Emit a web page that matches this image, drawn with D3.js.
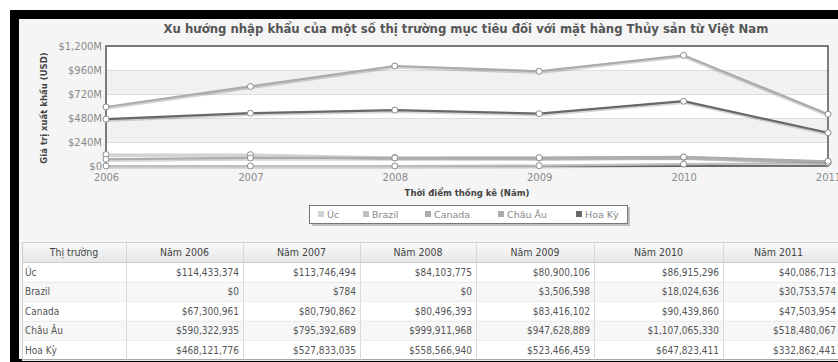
<!DOCTYPE html>
<html><head><meta charset="utf-8">
<script src="https://cdn.jsdelivr.net/npm/d3@7"></script>
<style>
body{margin:0;background:#fff}
svg{display:block}
</style>
</head><body>
<svg id="c" width="838" height="362"></svg>
<script>
// Seafood import values (USD) per market, 2006–2011
const years = [2006, 2007, 2008, 2009, 2010, 2011];
const markets = ["Úc", "Brazil", "Canada", "Châu Âu", "Hoa Kỳ"];
const uc     = [114433374, 113746494, 84103775, 80900106, 86915296, 40086713];
const brazil = [0, 784, 0, 3506598, 18024636, 30753574];
const canada = [67300961, 80790862, 80496393, 83416102, 90439860, 47503954];
const chauAu = [590322935, 795392689, 999911968, 947628889, 1107065330, 518480067];
const hoaKy  = [468121776, 527833035, 558566940, 523466459, 647823411, 332862441];
const yTicks = [0, 240e6, 480e6, 720e6, 960e6, 1200e6];
const colors = ["#d2d2d2", "#bebebe", "#acacac", "#ababab", "#686868"];

const seriesValues = [uc, brazil, canada, chauAu, hoaKy];
const series = markets.map((m, i) => ({name: m, values: seriesValues[i], color: colors[i]}));

const svg = d3.select("#c");
const W = 838, H = 362;

// outer frame
svg.append("rect").attr("width", W).attr("height", H).attr("fill", "#fff");
svg.append("rect").attr("x", 10).attr("y", 10).attr("width", W - 10).attr("height", H - 10).attr("fill", "#000");
svg.append("rect").attr("x", 19).attr("y", 19).attr("width", W - 19).attr("height", 340).attr("fill", "#f5f5f5");

const plot = {left: 106, right: 828, top: 46, bottom: 166};
const x = d3.scalePoint().domain(years).range([plot.left, plot.right]);
const y = d3.scaleLinear().domain([0, 1200e6]).range([plot.bottom, plot.top]);

const font = "'DejaVu Sans', Verdana, sans-serif";

// title
svg.append("text")
  .attr("x", 466).attr("y", 33)
  .attr("text-anchor", "middle")
  .attr("font-family", font).attr("font-weight", "bold").attr("font-size", 11.7)
  .attr("fill", "#555")
  .text("Xu hướng nhập khẩu của một số thị trường mục tiêu đối với mặt hàng Thủy sản từ Việt Nam");

// alternating bands
const bands = svg.append("g");
for (let i = 0; i < yTicks.length - 1; i++) {
  bands.append("rect")
    .attr("x", plot.left).attr("width", plot.right - plot.left)
    .attr("y", y(yTicks[i + 1])).attr("height", y(yTicks[i]) - y(yTicks[i + 1]))
    .attr("fill", i % 2 === 0 ? "#ffffff" : "#f1f1f1");
}

// grid + y axis
const yAxis = d3.axisLeft(y).tickValues(yTicks)
  .tickFormat(d => d === 0 ? "$0" : "$" + d3.format(",")(d / 1e6) + "M")
  .tickSize(-(plot.right - plot.left)).tickPadding(4);
const gy = svg.append("g").attr("transform", `translate(${plot.left},0)`).call(yAxis);
gy.select(".domain").remove();
gy.selectAll(".tick line").attr("stroke", "#dcdcdc");
gy.selectAll("text").attr("font-family", font).attr("font-size", 10).attr("fill", "#8a8a8a");

// x axis labels
const xAxis = d3.axisBottom(x).tickSize(0).tickPadding(8);
const gx = svg.append("g").attr("transform", `translate(0,${plot.bottom})`).call(xAxis);
gx.select(".domain").remove();
gx.selectAll("text").attr("font-family", font).attr("font-size", 10).attr("fill", "#8a8a8a");

// plot frame
svg.append("rect")
  .attr("x", plot.left).attr("y", plot.top)
  .attr("width", plot.right - plot.left).attr("height", plot.bottom - plot.top)
  .attr("fill", "none").attr("stroke", "#5e5e5e").attr("stroke-width", 1.6);

// axis titles
svg.append("text")
  .attr("x", 467).attr("y", 196)
  .attr("text-anchor", "middle")
  .attr("font-family", font).attr("font-weight", "bold").attr("font-size", 8.5)
  .attr("fill", "#444")
  .text("Thời điểm thống kê (Năm)");
svg.append("text")
  .attr("transform", "translate(47,108) rotate(-90)")
  .attr("text-anchor", "middle")
  .attr("font-family", font).attr("font-weight", "bold").attr("font-size", 8.5)
  .attr("fill", "#444")
  .text("Giá trị xuất khẩu (USD)");

// lines
const line = d3.line().x((d, i) => x(years[i])).y(d => y(d));
const lg = svg.append("g");
series.forEach(s => {
  lg.append("path").attr("d", line(s.values))
    .attr("fill", "none").attr("stroke", "rgba(0,0,0,0.16)").attr("stroke-width", 3.5)
    .attr("transform", "translate(0,1)");
  lg.append("path").attr("d", line(s.values))
    .attr("fill", "none").attr("stroke", s.color).attr("stroke-width", 2.2);
});
series.forEach(s => {
  lg.selectAll(null).data(s.values).enter().append("circle")
    .attr("cx", (d, i) => x(years[i])).attr("cy", d => y(d))
    .attr("r", 3).attr("fill", "#fff").attr("stroke", "#8c8c8c").attr("stroke-width", 1);
});

// legend
const leg = svg.append("g");
leg.append("rect").attr("x", 312).attr("y", 207).attr("width", 318).attr("height", 19).attr("fill", "#9a9a9a").attr("opacity", 0.6);
leg.append("rect").attr("x", 309.5).attr("y", 205.5).attr("width", 318).attr("height", 18)
  .attr("fill", "#fff").attr("stroke", "#777").attr("stroke-width", 1);
const legX = [318, 363, 425, 498, 576];
series.forEach((s, i) => {
  leg.append("rect").attr("x", legX[i]).attr("y", 211).attr("width", 6).attr("height", 6).attr("fill", s.color);
  leg.append("text").attr("x", legX[i] + 9).attr("y", 218)
    .attr("font-family", font).attr("font-size", 9.5).attr("fill", "#888").text(s.name);
});

// data table
const tfont = "'DejaVu Sans Condensed', 'DejaVu Sans', sans-serif";
const colEdges = [22, 126, 243, 360, 476, 594, 723, 840];
const headTop = 242, headH = 20, rowH = 19.5;
const tbl = svg.append("g").attr("font-family", tfont).attr("font-stretch", "condensed");

const grad = svg.append("defs").append("linearGradient").attr("id", "hg").attr("x1", 0).attr("y1", 0).attr("x2", 0).attr("y2", 1);
grad.append("stop").attr("offset", "0%").attr("stop-color", "#fbfbfb");
grad.append("stop").attr("offset", "100%").attr("stop-color", "#e6e6e6");

tbl.append("rect").attr("x", colEdges[0]).attr("y", headTop)
  .attr("width", colEdges[7] - colEdges[0]).attr("height", headH).attr("fill", "url(#hg)");
series.forEach((s, r) => {
  tbl.append("rect").attr("x", colEdges[0]).attr("y", headTop + headH + r * rowH)
    .attr("width", colEdges[7] - colEdges[0]).attr("height", rowH)
    .attr("fill", r % 2 === 0 ? "#ffffff" : "#f7f7f7");
});
// borders
const tBottom = headTop + headH + series.length * rowH;
tbl.append("rect").attr("x", colEdges[0] + 0.5).attr("y", headTop + 0.5)
  .attr("width", colEdges[7] - colEdges[0]).attr("height", tBottom - headTop)
  .attr("fill", "none").attr("stroke", "#cfcfcf");
colEdges.slice(1, 7).forEach(cx => {
  tbl.append("line").attr("x1", cx + 0.5).attr("x2", cx + 0.5).attr("y1", headTop).attr("y2", tBottom).attr("stroke", "#d8d8d8");
});
for (let r = 0; r <= series.length; r++) {
  const yy = headTop + headH + r * rowH;
  tbl.append("line").attr("x1", colEdges[0]).attr("x2", colEdges[7]).attr("y1", Math.round(yy) + 0.5).attr("y2", Math.round(yy) + 0.5)
    .attr("stroke", r === 0 ? "#cccccc" : "#ececec");
}
const headers = ["Thị trường"].concat(years.map(v => "Năm " + v));
headers.forEach((h, c) => {
  tbl.append("text").attr("x", (colEdges[c] + colEdges[c + 1]) / 2 - (c === 6 ? 3 : 0)).attr("y", headTop + 14)
    .attr("text-anchor", "middle").attr("font-size", 10.5).attr("fill", "#444").text(h);
});
const money = d => "$" + d3.format(",")(d);
series.forEach((s, r) => {
  const ty = headTop + headH + r * rowH + 13.5;
  tbl.append("text").attr("x", colEdges[0] + 3).attr("y", ty).attr("font-size", 10).attr("fill", "#555").text(s.name);
  s.values.forEach((v, c) => {
    tbl.append("text").attr("x", colEdges[c + 2] - 4).attr("y", ty)
      .attr("text-anchor", "end").attr("font-size", 10).attr("fill", "#555").text(money(v));
  });
});
</script>
</body></html>
